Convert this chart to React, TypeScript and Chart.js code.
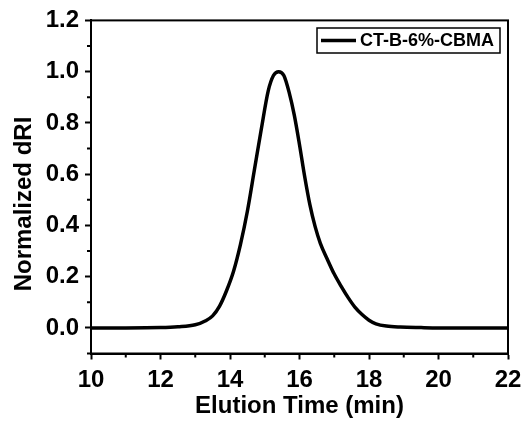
import React, { useEffect, useRef } from "react";
import { Chart, registerables } from "chart.js";

Chart.register(...registerables);

const seriesLabel = "CT-B-6%-CBMA";
const elutionTime = [
  10, 11, 12, 12.5, 13.0, 13.3, 13.5, 13.7, 13.9, 14.1, 14.3, 14.5, 14.7, 14.9, 15.1, 15.25, 15.4,
  15.55, 15.7, 15.85, 16.0, 16.15, 16.3, 16.45, 16.6, 16.8, 17.0, 17.2, 17.4, 17.6, 17.8, 18.0, 18.2,
  18.5, 18.9, 19.5, 20, 21, 22,
];
const normalizedDRI = [
  0, 0, 0.001, 0.004, 0.012, 0.028, 0.047, 0.085, 0.145, 0.22, 0.325, 0.455, 0.615, 0.775, 0.925, 0.985, 1.0,
  0.985, 0.92, 0.83, 0.715, 0.59, 0.48, 0.395, 0.33, 0.268, 0.21, 0.162, 0.118, 0.08, 0.052, 0.03, 0.016,
  0.007, 0.003, 0.001, 0, 0, 0,
];
const xMajorTicks = [10, 12, 14, 16, 18, 20, 22];
const xMinorTicks = [11, 13, 15, 17, 19, 21];
const yMajorTicks = [0.0, 0.2, 0.4, 0.6, 0.8, 1.0, 1.2];
const yMinorTicks = [-0.1, 0.1, 0.3, 0.5, 0.7, 0.9, 1.1];
const xTitle = "Elution Time (min)";
const yTitle = "Normalized dRI";

const FONT = "'Liberation Sans', Arial, Helvetica, sans-serif";

export default function App() {
  const canvasRef = useRef<HTMLCanvasElement | null>(null);

  useEffect(() => {
    if (!canvasRef.current) return;

    const decor = {
      id: "decor",
      afterDraw(chart: any) {
        const { ctx, chartArea } = chart;
        const xs = chart.scales.x;
        const ys = chart.scales.y;
        ctx.save();
        ctx.strokeStyle = "#000";
        ctx.lineWidth = 2;
        ctx.strokeRect(chartArea.left, chartArea.top, chartArea.right - chartArea.left, chartArea.bottom - chartArea.top);
        // minor ticks
        ctx.beginPath();
        for (const v of xMinorTicks) {
          const px = xs.getPixelForValue(v);
          ctx.moveTo(px, chartArea.bottom);
          ctx.lineTo(px, chartArea.bottom + 4);
        }
        for (const v of yMinorTicks) {
          const py = ys.getPixelForValue(v);
          ctx.moveTo(chartArea.left, py);
          ctx.lineTo(chartArea.left - 4, py);
        }
        ctx.stroke();

        // axis titles
        ctx.fillStyle = "#000";
        ctx.font = `bold 24px ${FONT}`;
        ctx.textAlign = "center";
        ctx.textBaseline = "middle";
        ctx.fillText(xTitle, (chartArea.left + chartArea.right) / 2, 406);
        ctx.save();
        ctx.translate(24, 204);
        ctx.rotate(-Math.PI / 2);
        ctx.fillText(yTitle, 0, 0);
        ctx.restore();

        // legend
        const lx = 317, ly = 28, lw = 183, lh = 25;
        ctx.lineWidth = 1.5;
        ctx.strokeRect(lx, ly, lw, lh);
        ctx.lineWidth = 3.5;
        ctx.beginPath();
        ctx.moveTo(321, ly + lh / 2);
        ctx.lineTo(356, ly + lh / 2);
        ctx.stroke();
        ctx.font = `bold 18px ${FONT}`;
        ctx.textAlign = "left";
        ctx.fillText(seriesLabel, 360, ly + lh / 2 + 1);
        ctx.restore();
      },
    };

    const chart = new Chart(canvasRef.current, {
      type: "line",
      data: {
        datasets: [
          {
            label: seriesLabel,
            data: elutionTime.map((x, i) => ({ x, y: normalizedDRI[i] })),
            borderColor: "#000",
            backgroundColor: "#000",
            borderWidth: 3.5,
            pointRadius: 0,
            fill: false,
            cubicInterpolationMode: "monotone",
          },
        ],
      },
      options: {
        animation: false,
        responsive: true,
        maintainAspectRatio: false,
        layout: { padding: { left: 0, top: 16, right: 21, bottom: 0 } },
        plugins: { legend: { display: false }, tooltip: { enabled: false } },
        scales: {
          x: {
            type: "linear",
            min: 10,
            max: 22,
            afterBuildTicks: (s: any) => {
              s.ticks = xMajorTicks.map((v) => ({ value: v }));
            },
            afterFit: (s: any) => {
              s.height = 71.5;
            },
            border: { display: true, color: "#000", width: 2 },
            grid: { display: true, drawOnChartArea: false, drawTicks: true, tickLength: 6, tickColor: "#000", tickWidth: 2 },
            ticks: {
              color: "#000",
              padding: 6,
              maxRotation: 0,
              autoSkip: false,
              font: { family: FONT, size: 24, weight: "bold" },
              callback: (v: any) => String(v),
            },
          },
          y: {
            type: "linear",
            min: -0.1,
            max: 1.2,
            afterBuildTicks: (s: any) => {
              s.ticks = yMajorTicks.map((v) => ({ value: v }));
            },
            afterFit: (s: any) => {
              s.width = 91;
            },
            border: { display: true, color: "#000", width: 2 },
            grid: { display: true, drawOnChartArea: false, drawTicks: true, tickLength: 6, tickColor: "#000", tickWidth: 2 },
            ticks: {
              color: "#000",
              padding: 6,
              autoSkip: false,
              font: { family: FONT, size: 24, weight: "bold" },
              callback: (v: any) => Number(v).toFixed(1),
            },
          },
        },
      },
      plugins: [decor],
    });

    return () => chart.destroy();
  }, []);

  return (
    <div style={{ position: "fixed", left: 0, top: 0, width: 529, height: 425, background: "#fff" }}>
      <canvas ref={canvasRef} />
    </div>
  );
}
